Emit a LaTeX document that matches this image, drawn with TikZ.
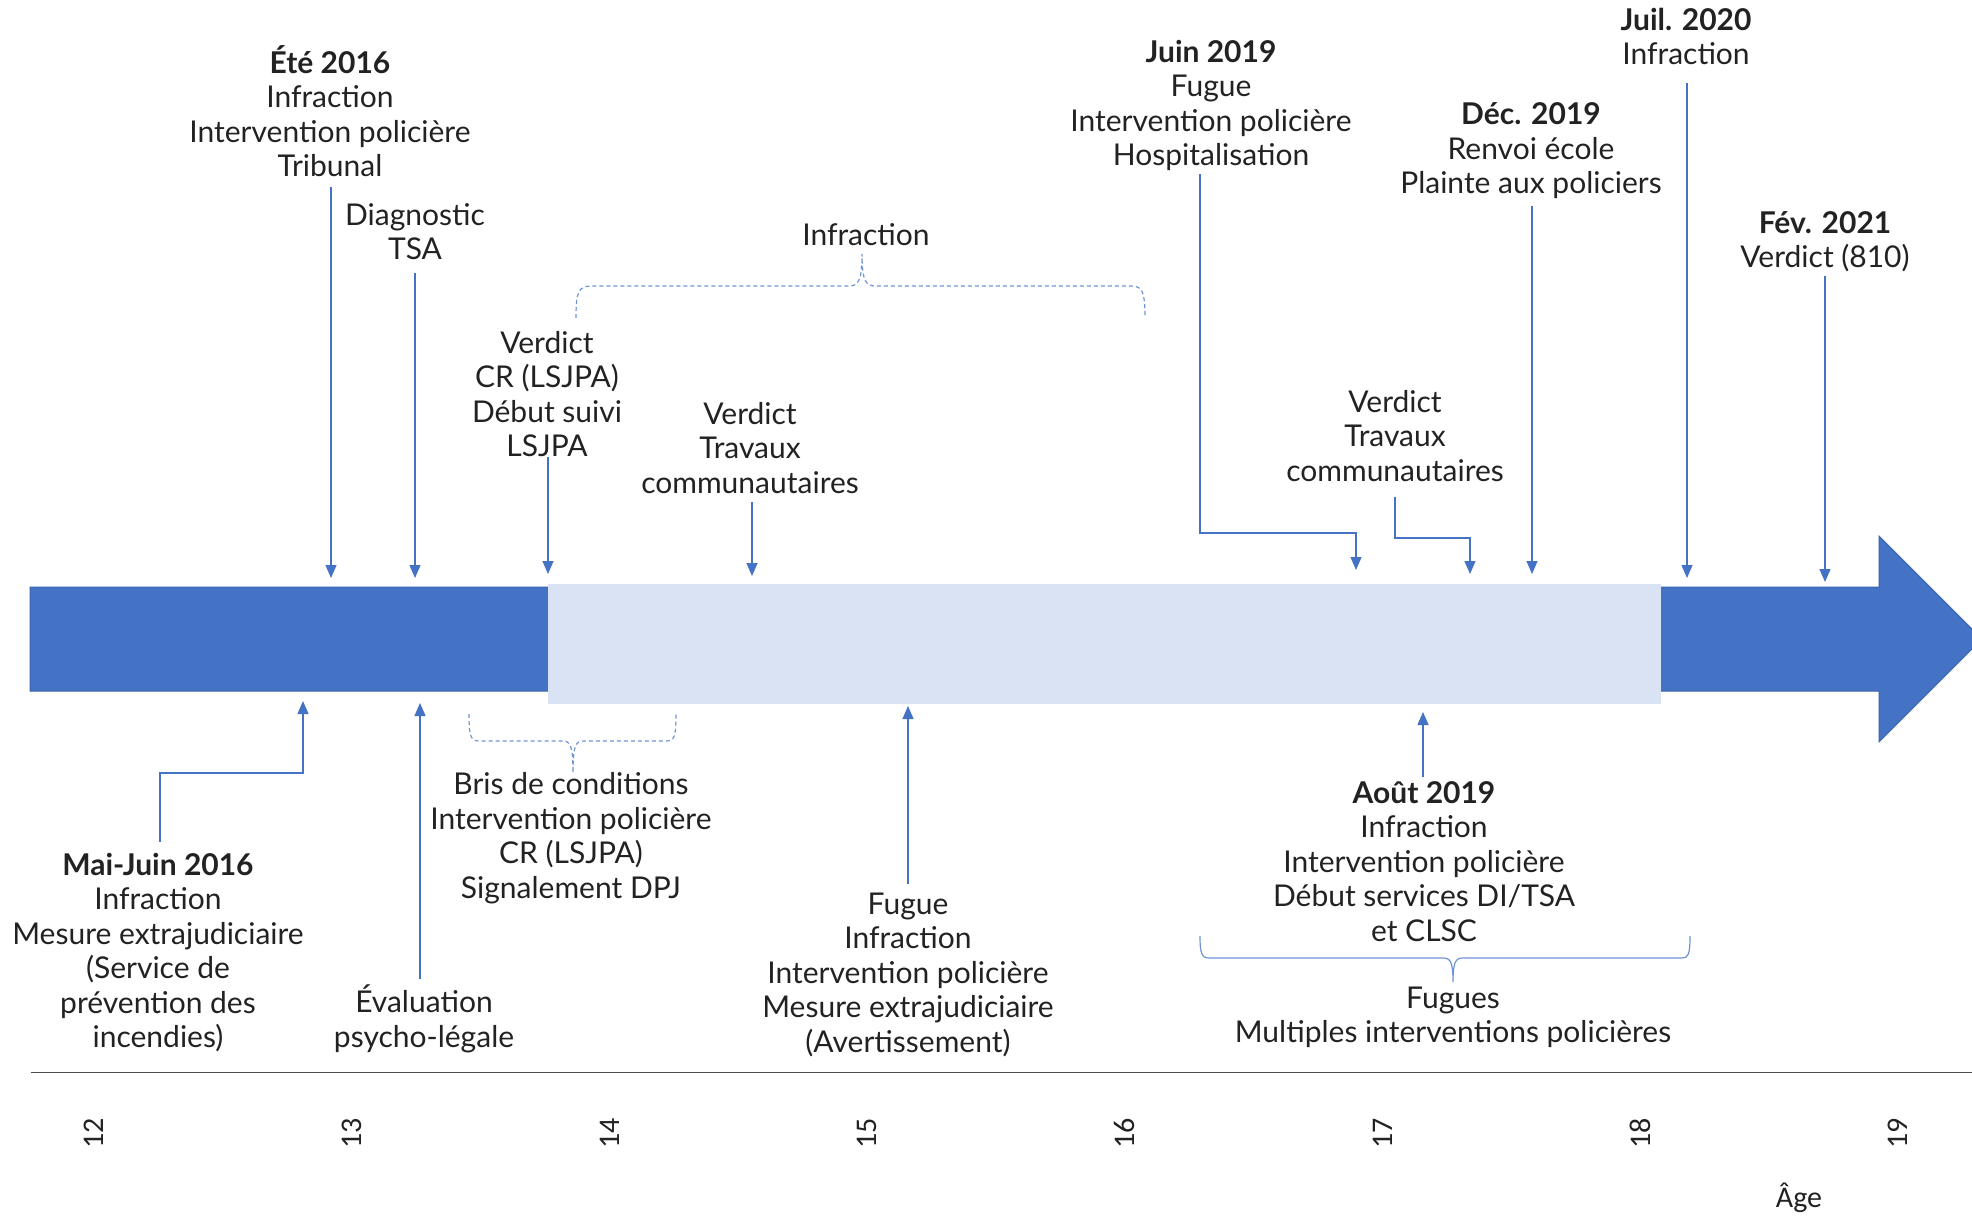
\documentclass[tikz,border=0pt]{standalone}
\usepackage{fontspec}
\setmainfont{Lato}
\newfontfamily\agefont{Carlito}
\usetikzlibrary{arrows.meta}
\definecolor{dblue}{HTML}{4472C4}
\definecolor{lblue}{HTML}{DAE3F3}
\definecolor{bord}{HTML}{3A63AC}
\definecolor{brc}{HTML}{6F94D6}
\definecolor{txt}{HTML}{222222}
\begin{document}
\begin{tikzpicture}[x=1pt,y=-1pt,
  lbl/.style={align=center, inner sep=0pt, font=\fontsize{30}{34.5}\selectfont, text=txt},
  arr/.style={draw=dblue, line width=1.3pt, -{Triangle[width=11pt,length=13pt]}},
  bracel/.style={draw=brc, line width=1.2pt},
  dbracel/.style={bracel, dash pattern=on 4pt off 3pt},
  agel/.style={font=\agefont\fontsize{30}{32}\selectfont, rotate=90, inner sep=0pt, text=txt}]
\useasboundingbox (0,0) rectangle (1972,1215);

% bar
\fill[dblue, draw=bord, line width=1pt] (30,587) -- (1879,587) -- (1879,536) -- (1982,639) -- (1879,742) -- (1879,691) -- (30,691) -- cycle;
\fill[lblue] (548,584) rectangle (1661,704);

% axis
\draw[line width=1pt, color=black!70] (31,1072) -- (1972,1072);
\foreach \a [count=\k from 0] in {12,...,19}
  \node[agel] (age\a) at ({94+257.7*\k},1133) {\a};
\node[font=\agefont\fontsize{30}{34}\selectfont, text=txt, inner sep=0pt] (agelbl) at (1799,1198) {Âge};

% labels above
\node[lbl] (ete) at (330,111) {\textbf{Été 2016}\\Infraction\\Intervention policière\\Tribunal};
\node[lbl] (diag) at (415,231.5) {Diagnostic\\TSA};
\node[lbl] (verd1) at (547,394) {Verdict\\CR (LSJPA)\\Début suivi\\LSJPA};
\node[lbl] (infr) at (866,235) {Infraction};
\node[lbl] (verd2) at (750,448) {Verdict\\Travaux\\communautaires};
\node[lbl] (juin) at (1211,105.5) {\textbf{Juin 2019}\\Fugue\\Intervention policière\\Hospitalisation};
\node[lbl] (dec) at (1531,151) {\textbf{Déc. 2019}\\Renvoi école\\Plainte aux policiers};
\node[lbl] (juil) at (1686,36.5) {\textbf{Juil. 2020}\\Infraction};
\node[lbl] (verd3) at (1395,436) {Verdict\\Travaux\\communautaires};
\node[lbl] (fev) at (1825,241.5) {\textbf{Fév. 2021}\\Verdict (810)};

% labels below
\node[lbl] (mai) at (158,952.5) {\textbf{Mai-Juin 2016}\\Infraction\\Mesure extrajudiciaire\\(Service de\\prévention des\\incendies)};
\node[lbl] (eval) at (424,1019) {Évaluation\\psycho-légale};
\node[lbl] (bris) at (571,838) {Bris de conditions\\Intervention policière\\CR (LSJPA)\\Signalement DPJ};
\node[lbl] (fugue) at (908,974.5) {Fugue\\Infraction\\Intervention policière\\Mesure extrajudiciaire\\(Avertissement)};
\node[lbl] (aout) at (1424,861.5) {\textbf{Août 2019}\\Infraction\\Intervention policière\\Début services DI/TSA\\et CLSC};
\node[lbl] (fugues) at (1453,1017.5) {Fugues\\Multiples interventions policières};

% arrow targets
\coordinate (t1) at (331,578);
\coordinate (t2) at (415,578);
\coordinate (t3) at (548,574);
\coordinate (t4) at (752,576);
\coordinate (t6) at (1356,570);
\coordinate (t7) at (1470,574);
\coordinate (t8) at (1532,574);
\coordinate (t9) at (1687,578);
\coordinate (t10) at (1825,582);
\coordinate (t11) at (303,701);
\coordinate (t12) at (420,703);
\coordinate (t13) at (908,706);
\coordinate (t14) at (1423,712);

% arrows from above
\draw[arr, shorten <=10pt] (t1 |- ete.south) -- (t1);
\draw[arr, shorten <=13pt] (t2 |- diag.south) -- (t2);
\draw[arr] (t3 |- verd1.south) -- (t3);
\draw[arr, shorten <=8pt] (t4 |- verd2.south) -- (t4);
\draw[arr, shorten <=3pt] ([xshift=-11pt]juin.south) |- ([yshift=37pt]t6) -- (t6);
\draw[arr, shorten <=15pt] (verd3.south) |- ([yshift=36pt]t7) -- (t7);
\draw[arr, shorten <=7pt] (t8 |- dec.south) -- (t8);
\draw[arr, shorten <=18pt] (t9 |- juil.south) -- (t9);
\draw[arr, shorten <=4pt] (t10 |- fev.south) -- (t10);

% arrows from below
\draw[arr, shorten <=11pt] ([xshift=2pt]mai.north) |- ([yshift=-72pt]t11) -- (t11);
\draw[arr, shorten <=6pt] (t12 |- eval.north) -- (t12);
\draw[arr, shorten <=8pt] (t13 |- fugue.north) -- (t13);
\draw[arr, shorten <=4pt] (t14 |- aout.north) -- (t14);

% braces
\draw[dbracel] (576,318) .. controls (576,292) and (578,286) .. (592,286) -- (848,286) .. controls (858,286) and (862,282) .. (862,254) .. controls (862,282) and (866,286) .. (876,286) -- (1130,286) .. controls (1142,286) and (1145,290) .. (1145,318);
\draw[dbracel] (469,714) .. controls (469,738) and (471,741) .. (480,741) -- (562,741) .. controls (570,741) and (573,744) .. (573,773) .. controls (573,744) and (576,741) .. (584,741) -- (666,741) .. controls (674,741) and (676,738) .. (676,714);
\draw[bracel] (1200,936) .. controls (1200,955) and (1202,958) .. (1210,958) -- (1443,958) .. controls (1450,958) and (1453,961) .. (1453,982) .. controls (1453,961) and (1456,958) .. (1463,958) -- (1682,958) .. controls (1688,958) and (1690,955) .. (1690,936);
\end{tikzpicture}
\end{document}
